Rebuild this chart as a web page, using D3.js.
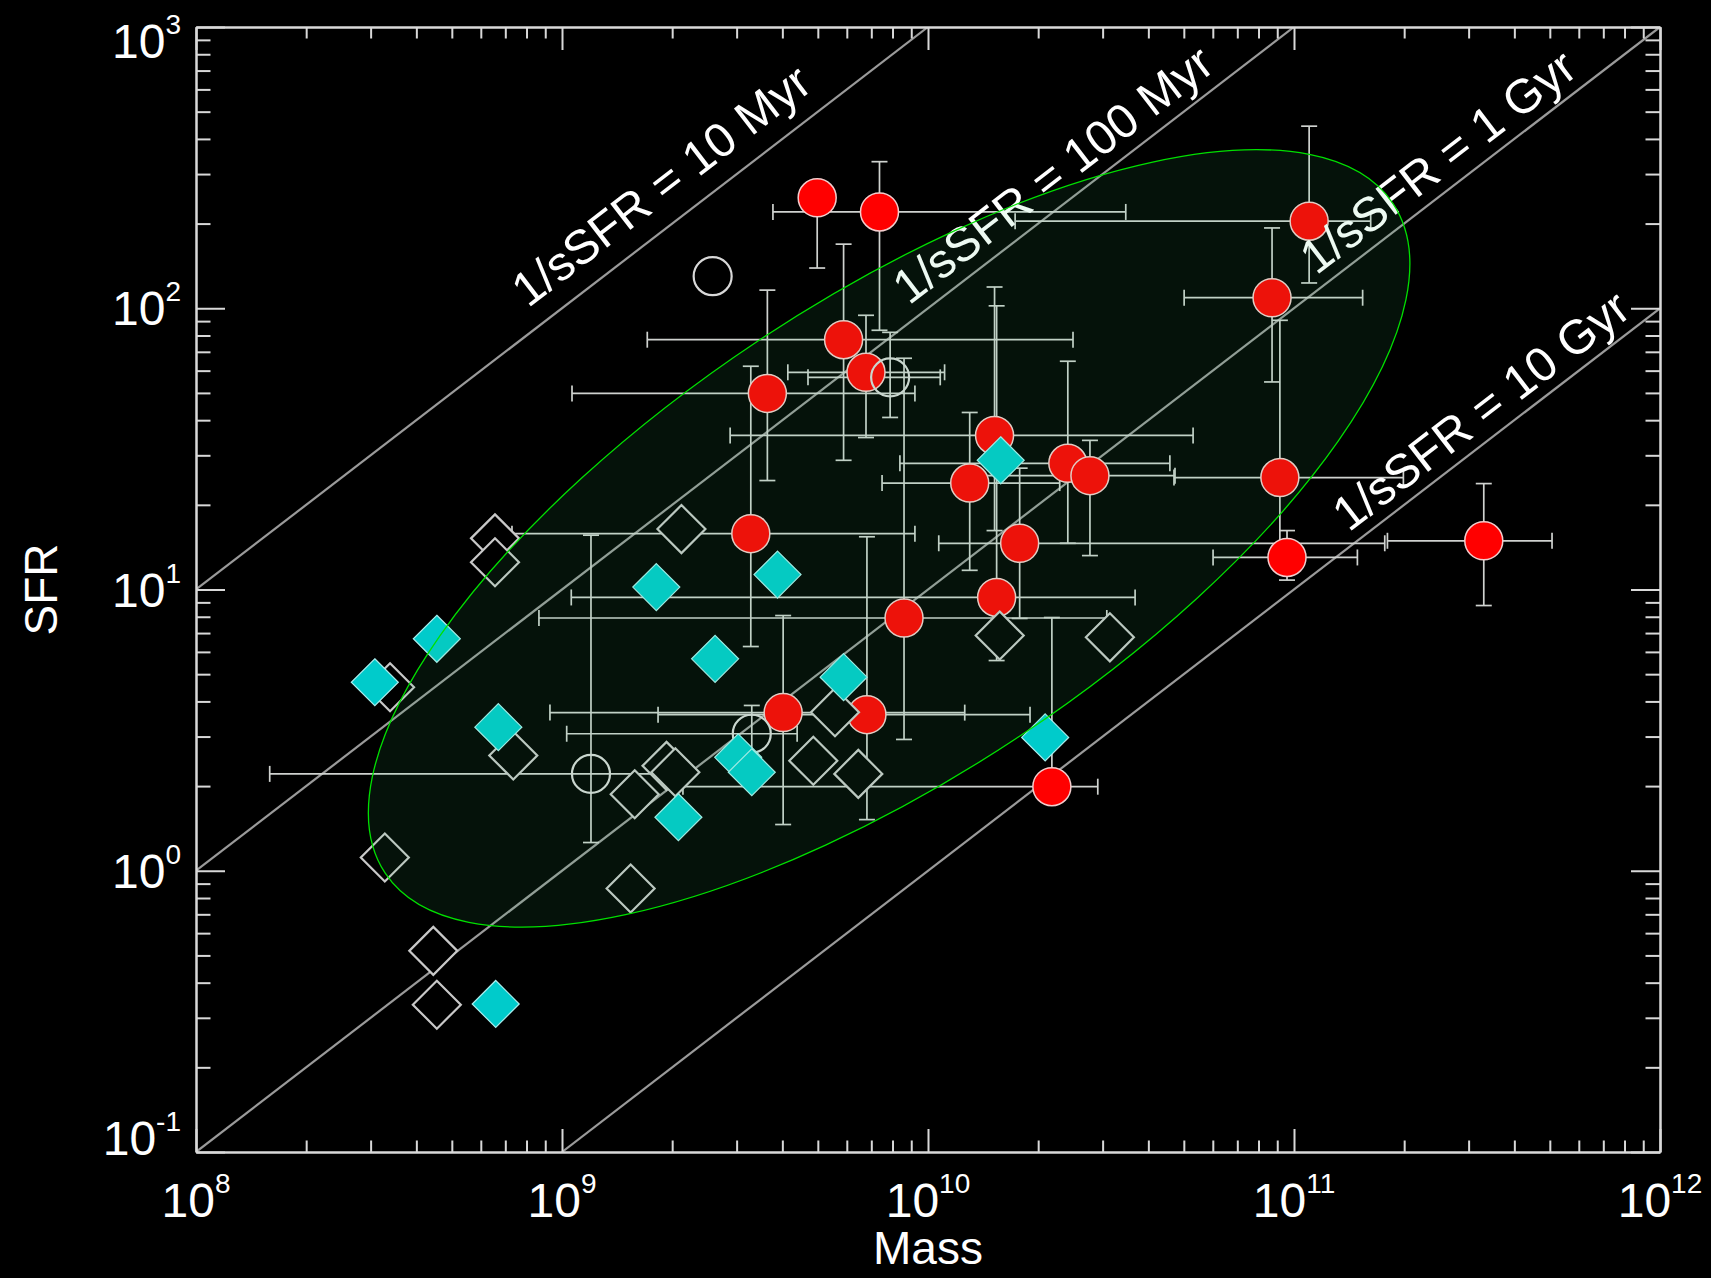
<!DOCTYPE html>
<html><head><meta charset="utf-8">
<script src="https://cdn.jsdelivr.net/npm/d3@7"></script>
<style>
html,body{margin:0;padding:0;background:#000;}
svg{display:block;}
</style></head><body>
<svg id="chart" width="1711" height="1278"></svg>
<script>
// ---------------- DATA ----------------
const xTickValues = [1e8, 1e9, 1e10, 1e11, 1e12];
const xTickExponents = ["8", "9", "10", "11", "12"];
const yTickValues = [0.1, 1, 10, 100, 1000];
const yTickExponents = ["-1", "0", "1", "2", "3"];
const xAxisTitle = "Mass";
const yAxisTitle = "SFR";

// constant 1/sSFR timescales (yr) and their labels
const sSFRTimescales = [1e7, 1e8, 1e9, 1e10];
const sSFRLabels = ["1/sSFR = 10 Myr", "1/sSFR = 100 Myr", "1/sSFR = 1 Gyr", "1/sSFR = 10 Gyr"];
const sSFRLabelMass = [2.15e9, 2.46e10, 2.76e11, 3.61e11];

// red filled circles
const redMass   = [4.98e9, 7.37e9, 1.10e11, 8.71e10, 5.88e9, 6.77e9, 3.64e9, 1.52e10, 1.30e10, 2.41e10, 2.77e10, 9.15e10, 3.28e9, 1.78e10, 9.57e10, 3.30e11, 1.54e10, 8.60e9, 4.02e9, 6.81e9, 2.18e10];
const redSFR    = [247, 220, 204, 109, 77.3, 59.2, 49.8, 35.3, 23.9, 28.1, 25.4, 25.0, 15.8, 14.6, 13.0, 14.9, 9.37, 7.92, 3.65, 3.59, 1.99];
const redMassLo = [null, 3.77e9, 1.73e10, 5.01e10, 1.71e9, 4.14e9, 1.065e9, 2.88e9, 7.49e9, 8.38e9, 1.22e10, 4.70e10, 7.30e8, 1.07e10, 6.01e10, 1.80e11, 1.06e9, 8.65e8, 9.27e8, 1.83e9, 2.14e9];
const redMassHi = [null, 3.47e10, 1.62e11, 1.54e11, 2.49e10, 1.11e10, 9.21e9, 5.30e10, 2.29e10, 4.58e10, 4.73e10, 1.99e11, 9.21e9, 1.77e11, 1.49e11, 5.07e11, 3.68e10, 3.08e10, 1.26e10, 1.90e10, 2.91e10];
const redSFRLo  = [139, 83.5, 123, 54.7, 28.8, 34.7, 24.4, 16.2, 11.7, 14.6, 13.2, 14.3, 6.27, 7.89, 10.8, 8.77, 5.59, 2.93, 1.46, 1.52, 1.77];
const redSFRHi  = [247, 332, 444, 193, 169, 94.4, 116, 119, 42.6, 64.8, 33.9, 90.6, 62.2, 27.0, 16.2, 23.8, 102, 66.4, 8.08, 15.4, 7.95];

// open circles
const openCircleMass   = [2.58e9, 7.88e9, 1.20e9, 3.30e9];
const openCircleSFR    = [130, 56.8, 2.21, 3.07];
const openCircleMassLo = [null, 4.70e9, 1.59e8, 1.03e9];
const openCircleMassHi = [null, 1.08e10, 1.85e9, 4.39e9];
const openCircleSFRLo  = [null, 40.9, 1.26, 2.46];
const openCircleSFRHi  = [null, 82.1, 15.6, 3.87];

// cyan filled diamonds
const cyanMass = [1.58e10, 3.88e9, 1.81e9, 4.55e8, 2.62e9, 3.08e8, 5.88e9, 6.70e8, 2.09e10, 3.03e9, 3.30e9, 2.08e9, 6.59e8];
const cyanSFR  = [28.8, 11.3, 10.2, 6.68, 5.67, 4.68, 4.88, 3.24, 2.98, 2.53, 2.24, 1.55, 0.336];

// open diamonds
const openDiamondMass = [6.56e8, 6.56e8, 2.12e9, 3.39e8, 7.36e8, 1.58e9, 1.93e9, 2.04e9, 4.86e9, 6.45e9, 5.57e9, 1.57e10, 3.14e10, 3.28e8, 1.54e9, 4.45e8, 4.55e8];
const openDiamondSFR  = [15.2, 12.5, 16.4, 4.49, 2.57, 1.87, 2.36, 2.24, 2.46, 2.21, 3.66, 6.86, 6.76, 1.115, 0.865, 0.519, 0.334];

// shaded ellipse centre (data)
const ellipseCenterMass = 7.83e9;
const ellipseCenterSFR = 15.2;

// ---------------- LAYOUT / STYLE ----------------
const plot = {left: 196, right: 1660, top: 27, bottom: 1152};
const fontFamily = "'Liberation Sans', Arial, Helvetica, sans-serif";
const frameColor = "#d9d9d9";
const ellipseStyle = {rx: 605, ry: 237, angle: -33.6};
const labelOffsets = [37, 30, 28.6, 28.1];

const svg = d3.select("#chart");
svg.append("rect").attr("width", 1711).attr("height", 1278).attr("fill", "#000");

const x = d3.scaleLog().domain([1e8, 1e12]).range([plot.left, plot.right]);
const y = d3.scaleLog().domain([0.1, 1000]).range([plot.bottom, plot.top]);

svg.append("defs").append("clipPath").attr("id", "clip")
  .append("rect").attr("x", plot.left).attr("y", plot.top)
  .attr("width", plot.right - plot.left).attr("height", plot.bottom - plot.top);

// minor tick values
const xMinor = [], yMinor = [];
[1e8, 1e9, 1e10, 1e11].forEach(d => { for (let k = 2; k <= 9; k++) xMinor.push(d * k); });
[0.1, 1, 10, 100].forEach(d => { for (let k = 2; k <= 9; k++) yMinor.push(d * k); });

// ---------------- SSFR LINES ----------------
const gLines = svg.append("g").attr("clip-path", "url(#clip)");
sSFRTimescales.forEach(t => {
  const m0 = Math.max(1e8, 0.1 * t), m1 = Math.min(1e12, 1000 * t);
  gLines.append("line")
    .attr("x1", x(m0)).attr("y1", y(m0 / t))
    .attr("x2", x(m1)).attr("y2", y(m1 / t))
    .attr("stroke", "#9a9a9a").attr("stroke-width", 2.2);
});

// ---------------- ERROR BARS ----------------
const gErr = svg.append("g").attr("stroke", "#cfd2cf").attr("stroke-width", 1.7).attr("fill", "none");
const cap = 8;
function errorBars(mass, sfr, mLo, mHi, sLo, sHi) {
  mass.forEach((m, i) => {
    const px = x(m), py = y(sfr[i]);
    if (mLo[i] != null) {
      const a = x(mLo[i]), b = x(mHi[i]);
      gErr.append("line").attr("x1", a).attr("x2", b).attr("y1", py).attr("y2", py);
      gErr.append("line").attr("x1", a).attr("x2", a).attr("y1", py - cap).attr("y2", py + cap);
      gErr.append("line").attr("x1", b).attr("x2", b).attr("y1", py - cap).attr("y2", py + cap);
    }
    if (sLo[i] != null) {
      const a = y(sLo[i]), b = y(sHi[i]);
      gErr.append("line").attr("x1", px).attr("x2", px).attr("y1", a).attr("y2", b);
      gErr.append("line").attr("x1", px - cap).attr("x2", px + cap).attr("y1", a).attr("y2", a);
      gErr.append("line").attr("x1", px - cap).attr("x2", px + cap).attr("y1", b).attr("y2", b);
    }
  });
}
errorBars(redMass, redSFR, redMassLo, redMassHi, redSFRLo, redSFRHi);
errorBars(openCircleMass, openCircleSFR, openCircleMassLo, openCircleMassHi, openCircleSFRLo, openCircleSFRHi);

// ---------------- MARKERS ----------------
const diamond = h => `M0,${-h}L${h},0L0,${h}L${-h},0Z`;

svg.append("g").selectAll("circle").data(redMass).join("circle")
  .attr("cx", d => x(d)).attr("cy", (d, i) => y(redSFR[i])).attr("r", 19)
  .attr("fill", "#ff0000").attr("stroke", "#f3cccc").attr("stroke-width", 1.5);

svg.append("g").selectAll("circle").data(openCircleMass).join("circle")
  .attr("cx", d => x(d)).attr("cy", (d, i) => y(openCircleSFR[i])).attr("r", 19)
  .attr("fill", "none").attr("stroke", "#d8d8d8").attr("stroke-width", 2.2);

svg.append("g").selectAll("path").data(openDiamondMass).join("path")
  .attr("transform", (d, i) => `translate(${x(d)},${y(openDiamondSFR[i])})`)
  .attr("d", diamond(24))
  .attr("fill", "#000").attr("stroke", "#c8c8c8").attr("stroke-width", 2.2);

svg.append("g").selectAll("path").data(cyanMass).join("path")
  .attr("transform", (d, i) => `translate(${x(d)},${y(cyanSFR[i])})`)
  .attr("d", diamond(23.5))
  .attr("fill", "#00cbcb").attr("stroke", "#a8eeee").attr("stroke-width", 1.2);

// ---------------- LINE LABELS ----------------
const theta = Math.atan((y(1) - y(10)) / (x(1e9) - x(1e8)));
const thetaDeg = theta * 180 / Math.PI;
sSFRLabels.forEach((lab, i) => {
  const m = sSFRLabelMass[i];
  const px = x(m) - labelOffsets[i] * Math.sin(theta);
  const py = y(m / sSFRTimescales[i]) - labelOffsets[i] * Math.cos(theta);
  svg.append("text")
    .attr("transform", `translate(${px},${py}) rotate(${-thetaDeg})`)
    .attr("text-anchor", "middle").attr("dominant-baseline", "central")
    .attr("font-family", fontFamily).attr("font-size", 48).attr("fill", "#ffffff")
    .text(lab);
});

// ---------------- ELLIPSE (translucent overlay) ----------------
svg.append("ellipse")
  .attr("transform", `translate(${x(ellipseCenterMass)},${y(ellipseCenterSFR)}) rotate(${ellipseStyle.angle})`)
  .attr("rx", ellipseStyle.rx).attr("ry", ellipseStyle.ry)
  .attr("fill", "rgb(60,200,110)").attr("fill-opacity", 0.09)
  .attr("stroke", "#00e000").attr("stroke-width", 1.3);

// ---------------- AXES ----------------
function styleAxis(g) {
  g.attr("color", frameColor);
  g.selectAll("path,line").attr("stroke-width", 2);
}
const xMajorTick = 23, yMajorTick = 29;
svg.append("g").attr("transform", `translate(0,${plot.bottom})`)
  .call(d3.axisBottom(x).tickValues(xTickValues).tickSize(-xMajorTick).tickSizeOuter(0).tickFormat("")).call(styleAxis);
svg.append("g").attr("transform", `translate(0,${plot.bottom})`)
  .call(d3.axisBottom(x).tickValues(xMinor).tickSize(-xMajorTick / 2).tickSizeOuter(0).tickFormat("")).call(styleAxis);
svg.append("g").attr("transform", `translate(0,${plot.top})`)
  .call(d3.axisTop(x).tickValues(xTickValues).tickSize(-xMajorTick).tickSizeOuter(0).tickFormat("")).call(styleAxis);
svg.append("g").attr("transform", `translate(0,${plot.top})`)
  .call(d3.axisTop(x).tickValues(xMinor).tickSize(-xMajorTick / 2).tickSizeOuter(0).tickFormat("")).call(styleAxis);
svg.append("g").attr("transform", `translate(${plot.left},0)`)
  .call(d3.axisLeft(y).tickValues(yTickValues).tickSize(-yMajorTick).tickSizeOuter(0).tickFormat("")).call(styleAxis);
svg.append("g").attr("transform", `translate(${plot.left},0)`)
  .call(d3.axisLeft(y).tickValues(yMinor).tickSize(-yMajorTick / 2).tickSizeOuter(0).tickFormat("")).call(styleAxis);
svg.append("g").attr("transform", `translate(${plot.right},0)`)
  .call(d3.axisRight(y).tickValues(yTickValues).tickSize(-yMajorTick).tickSizeOuter(0).tickFormat("")).call(styleAxis);
svg.append("g").attr("transform", `translate(${plot.right},0)`)
  .call(d3.axisRight(y).tickValues(yMinor).tickSize(-yMajorTick / 2).tickSizeOuter(0).tickFormat("")).call(styleAxis);

// tick labels with superscripts
const gLab = svg.append("g").attr("font-family", fontFamily).attr("fill", "#ffffff");
xTickValues.forEach((v, i) => {
  const t = gLab.append("text").attr("x", x(v)).attr("y", 1217).attr("text-anchor", "middle").attr("font-size", 48);
  t.append("tspan").text("10");
  t.append("tspan").attr("dy", -24).attr("font-size", 28).text(xTickExponents[i]);
});
yTickValues.forEach((v, i) => {
  const shift = v === 1000 ? 14 : (v === 0.1 ? -14 : 0);
  const t = gLab.append("text").attr("x", 181).attr("y", y(v) + 17 + shift).attr("text-anchor", "end").attr("font-size", 48);
  t.append("tspan").text("10");
  t.append("tspan").attr("dy", -24).attr("font-size", 28).text(yTickExponents[i]);
});

// axis titles
gLab.append("text").attr("x", (plot.left + plot.right) / 2).attr("y", 1264)
  .attr("text-anchor", "middle").attr("font-size", 46).text(xAxisTitle);
gLab.append("text").attr("transform", `translate(57,${(plot.top + plot.bottom) / 2}) rotate(-90)`)
  .attr("text-anchor", "middle").attr("font-size", 46).text(yAxisTitle);
</script>
</body></html>
